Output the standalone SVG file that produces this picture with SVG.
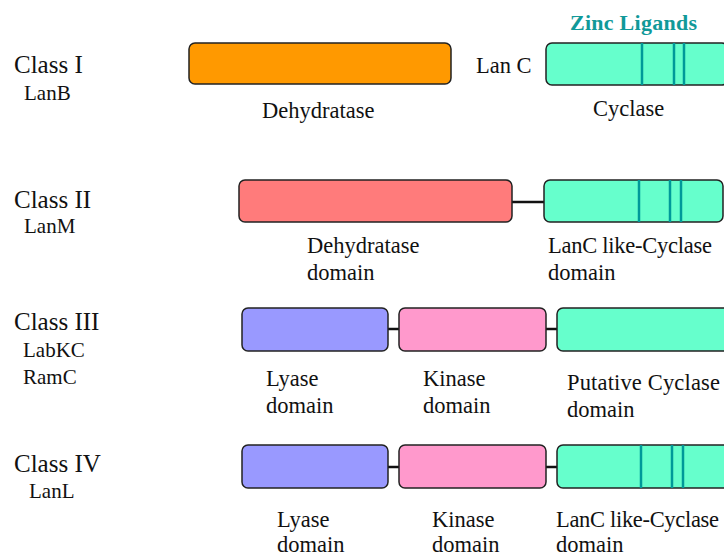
<svg xmlns="http://www.w3.org/2000/svg" width="724" height="557" viewBox="0 0 724 557">
<style>
text{font-family:"Liberation Serif","DejaVu Serif",serif;fill:#111}
.cls{font-size:25px}
.lbl{font-size:22.5px}
.sub{font-size:21px}
.box{stroke:#222;stroke-width:1.5}
.dh{fill:#ff9900}
.dh2{fill:#ff7b7b}
.cy{fill:#66ffcc}
.ly{fill:#9999ff}
.ki{fill:#ff99cc}
.zn{stroke:#009999;stroke-width:2.5}
.lk{stroke:#111;stroke-width:2.5;fill:none}
.zt{font-size:22px;font-weight:bold;fill:#119999}
</style>
<g id="connectors">
<line class="lk" x1="512" y1="202" x2="545" y2="202"/>
<line class="lk" x1="388" y1="329" x2="399" y2="329"/>
<line class="lk" x1="546" y1="329" x2="557" y2="329"/>
<line class="lk" x1="388" y1="467" x2="399" y2="467"/>
<line class="lk" x1="546" y1="467" x2="557" y2="467"/>
</g>
<g id="class1">
<text class="cls" x="14" y="73">Class I</text>
<text class="sub" x="24" y="100">LanB</text>
</g>
<g id="dehydratase1">
<rect class="box dh" x="189" y="43" width="262" height="41" rx="6"/>
<text class="lbl" x="262" y="118">Dehydratase</text>
</g>
<g id="lanc">
<text class="lbl" x="476" y="73">Lan C</text>
</g>
<g id="cyclase1">
<text class="zt" x="570" y="30" textLength="127">Zinc Ligands</text>
<rect class="box cy" x="546" y="43" width="182" height="42" rx="6"/>
<line class="zn" x1="642" y1="43" x2="642" y2="85"/>
<line class="zn" x1="674" y1="43" x2="674" y2="85"/>
<line class="zn" x1="684" y1="43" x2="684" y2="85"/>
<text class="lbl" x="593" y="116">Cyclase</text>
</g>
<g id="class2">
<text class="cls" x="14" y="208">Class II</text>
<text class="sub" x="24" y="233">LanM</text>
</g>
<g id="dehydratase2">
<rect class="box dh2" x="239" y="180" width="273" height="42" rx="6"/>
<text class="lbl" x="307" y="253">Dehydratase</text>
<text class="lbl" x="307" y="280">domain</text>
</g>
<g id="cyclase2">
<rect class="box cy" x="544" y="180" width="179" height="42" rx="6"/>
<line class="zn" x1="639" y1="180" x2="639" y2="222"/>
<line class="zn" x1="670" y1="180" x2="670" y2="222"/>
<line class="zn" x1="681" y1="180" x2="681" y2="222"/>
<text class="lbl" x="548" y="253" textLength="164">LanC like-Cyclase</text>
<text class="lbl" x="548" y="280">domain</text>
</g>
<g id="class3">
<text class="cls" x="14" y="330">Class III</text>
<text class="sub" x="23" y="357">LabKC</text>
<text class="sub" x="23" y="384">RamC</text>
</g>
<g id="lyase3">
<rect class="box ly" x="242" y="308" width="146" height="43" rx="6"/>
<text class="lbl" x="266" y="386">Lyase</text>
<text class="lbl" x="266" y="413">domain</text>
</g>
<g id="kinase3">
<rect class="box ki" x="399" y="308" width="147" height="43" rx="6"/>
<text class="lbl" x="423" y="386">Kinase</text>
<text class="lbl" x="423" y="413">domain</text>
</g>
<g id="cyclase3">
<rect class="box cy" x="557" y="308" width="172" height="43" rx="6"/>
<text class="lbl" x="567" y="390" textLength="153">Putative Cyclase</text>
<text class="lbl" x="567" y="417">domain</text>
</g>
<g id="class4">
<text class="cls" x="14" y="472">Class IV</text>
<text class="sub" x="29" y="498">LanL</text>
</g>
<g id="lyase4">
<rect class="box ly" x="242" y="445" width="146" height="43" rx="6"/>
<text class="lbl" x="277" y="527">Lyase</text>
<text class="lbl" x="277" y="552">domain</text>
</g>
<g id="kinase4">
<rect class="box ki" x="399" y="445" width="147" height="43" rx="6"/>
<text class="lbl" x="432" y="527">Kinase</text>
<text class="lbl" x="432" y="552">domain</text>
</g>
<g id="cyclase4">
<rect class="box cy" x="557" y="445" width="172" height="43" rx="6"/>
<line class="zn" x1="641" y1="445" x2="641" y2="488"/>
<line class="zn" x1="672" y1="445" x2="672" y2="488"/>
<line class="zn" x1="683" y1="445" x2="683" y2="488"/>
<text class="lbl" x="556" y="527" textLength="163">LanC like-Cyclase</text>
<text class="lbl" x="556" y="552">domain</text>
</g>
</svg>
